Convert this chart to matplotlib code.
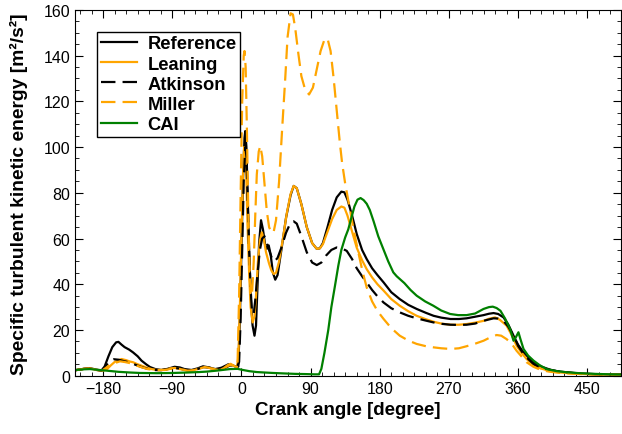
import matplotlib
matplotlib.use("Agg")
import matplotlib.pyplot as plt
from matplotlib.ticker import MultipleLocator

plt.rcParams['font.family'] = ['Liberation Sans', 'DejaVu Sans']

# crank angle [deg] / tke [m2/s2]
ref_x = [-216, -205, -197, -188, -182, -178, -173, -168, -163, -160, -156, -152, -146, -141, -135,
         -130, -124, -119, -112, -104, -96, -87, -80, -74, -65, -57, -50, -42, -34, -26, -17, -11,
         -6, -4, -2, 0, 2, 4, 5, 6.5, 8, 10, 12, 14.5, 17, 19, 21, 23, 25.5, 28, 31, 33, 35.5, 38,
         41, 44, 47, 52, 58, 64, 68, 72, 78, 85, 92, 98, 102, 106, 112, 118, 124, 130, 134, 138,
         144, 150, 157, 163, 170, 177, 185, 195, 206, 217, 228, 240, 250, 260, 272, 283, 293, 304,
         315, 322, 328, 334, 341, 347, 354, 360, 367, 374, 380, 390, 402, 412, 423, 440, 460, 480, 494]
ref_y = [2.4, 3.0, 3.3, 2.6, 2.3, 4.0, 8.5, 12.5, 14.6, 14.8, 13.6, 12.5, 11.4, 10.2, 8.5,
         6.6, 5.0, 3.8, 2.9, 2.5, 3.0, 3.9, 3.6, 2.9, 2.5, 3.2, 4.1, 3.6, 2.9, 3.5, 5.0, 4.5,
         3.7, 4, 25, 55, 85, 104, 107, 100, 80, 55, 35, 22, 17.5, 22, 40, 58, 68, 64, 57, 55.5, 57, 53,
         45, 42, 44, 55, 69, 79, 83, 82, 75, 65, 58, 55.5, 55.7, 58, 65, 72.5, 78, 80.5, 80.2, 77,
         70, 62, 55, 51, 47, 44, 40.8, 36.5, 33.5, 31, 29.2, 27.5, 26.2, 25.4, 24.8, 24.8, 25.1, 25.8,
         26.5, 27.1, 27.4, 27.0, 25.5, 22.5, 17.5, 13.5, 10.2, 7.8, 5.9, 4.0, 2.6, 1.9, 1.5, 1.0, 0.7, 0.5, 0.5]

lean_x = [-216, -205, -197, -188, -180, -175, -170, -165, -160, -156, -150, -145, -141, -135, -130,
          -124, -117, -110, -100, -92, -87, -80, -72, -65, -57, -50, -45, -38, -30, -24, -18, -14,
          -10, -6, -4, -2, 0, 2, 3.5, 5, 6.5, 8, 10, 12, 14.6, 17, 19, 21.5, 24, 26.5, 29, 32, 36,
          39, 42, 45, 49, 54, 59, 64, 68, 72, 78, 85, 92, 98, 102, 106, 112, 118, 124, 130, 134,
          138, 144, 150, 157, 163, 170, 177, 185, 195, 206, 217, 228, 240, 250, 260, 272, 283, 293,
          304, 315, 322, 330, 336, 345, 352, 358, 365, 371, 380, 389, 400, 412, 425, 440, 460, 480, 494]
lean_y = [2.4, 3.0, 3.2, 2.5, 2.2, 2.8, 4.5, 6.0, 6.8, 7.3, 6.8, 6.2, 5.9, 5.0, 4.4,
          3.6, 2.9, 2.5, 2.6, 3.2, 3.4, 3.0, 2.4, 2.2, 2.9, 3.7, 3.8, 3.1, 2.5, 3.0, 4.6, 5.2,
          4.4, 3.6, 8, 30, 60, 88, 100, 98, 85, 65, 45, 30, 23.3, 26, 35, 50, 59, 62.7, 60, 54, 49,
          46, 44.5, 45, 50, 60, 71, 79.5, 83, 82, 75, 65, 58, 55.5, 55.7, 57.5, 63, 68.5, 72.5, 74, 73.5,
          70, 63, 56, 50.5, 46.6, 43, 40, 37.2, 33.5, 30.6, 28.2, 26.2, 24.7, 23.6, 22.8, 22.3, 22.3, 22.6,
          23.2, 24, 24.9, 25.5, 24.5, 21.9, 17.5, 13.1, 9.8, 7.3, 4.8, 3.2, 2.2, 1.5, 1.1, 0.8, 0.6, 0.5, 0.5]

atk_x = [-216, -205, -197, -188, -182, -177, -172, -166, -160, -152, -145, -138, -130, -122, -115,
         -105, -96, -88, -80, -72, -65, -57, -50, -43, -36, -28, -20, -15, -10, -6, -3, -1, 1, 3, 5,
         6.5, 8, 10, 12, 13.7, 16, 18, 21, 24, 27, 30, 33, 37, 40, 43, 47, 52, 58, 64, 68, 72, 78,
         85, 92, 98, 104, 110, 117, 124, 130, 137, 144, 150, 157, 163, 170, 177, 185, 195, 206, 217,
         228, 240, 250, 260, 272, 283, 293, 304, 315, 322, 328, 334, 341, 347, 354, 360, 367, 374,
         380, 390, 406, 420, 440, 460, 480, 494]
atk_y = [2.4, 3.0, 3.2, 2.5, 2.2, 4, 6.2, 7.2, 7.0, 6.3, 5.8, 4.8, 3.8, 3.0, 2.5,
         2.4, 2.9, 3.4, 3.1, 2.5, 2.3, 2.9, 3.8, 3.6, 3.0, 2.6, 3.6, 4.5, 4.3, 3.6, 6, 25, 55, 85, 100,
         96, 78, 55, 38, 28, 27, 33, 45, 55, 60, 61, 58, 54, 51, 50, 51.5, 56, 62.5, 67, 67.5, 66.5, 61,
         54, 49.5, 48.4, 49.5, 52.5, 55, 56.1, 55.8, 54.6, 51, 47, 43.5, 40.8, 37.5, 34.7, 32, 29.5, 27.7, 26.2,
         25.1, 24.1, 23.3, 22.7, 22.3, 22.2, 22.3, 22.8, 24, 24.6, 25.1, 25.0, 24, 21.5, 17.5, 13, 9.5, 7,
         5.1, 3.4, 2.2, 1.5, 0.9, 0.6, 0.5, 0.5]

mil_x = [-216, -205, -197, -188, -181, -176, -170, -164, -158, -152, -145, -138, -130, -122, -112,
         -100, -92, -86, -78, -70, -62, -55, -48, -42, -34, -27, -20, -15, -11, -7, -5, -3, -1, 1, 3,
         4, 5.5, 7, 9, 11, 12.5, 14, 16, 18, 20, 22.5, 24.5, 27, 30, 33, 36, 39, 42, 45, 49, 53, 57,
         60, 64, 67, 70, 74, 78, 83, 88, 93, 98, 103, 108, 112, 116, 120, 124, 128, 131, 135, 141,
         147, 154, 158, 163, 170, 177, 185, 195, 206, 217, 228, 240, 250, 260, 272, 283, 293, 304,
         315, 324, 332, 338, 345, 352, 358, 365, 371, 380, 389, 400, 415, 430, 450, 470, 494]
mil_y = [2.4, 3.0, 3.2, 2.5, 2.3, 3.5, 5.0, 5.6, 6.3, 6.0, 5.5, 4.6, 3.7, 2.9, 2.4,
         2.5, 3.0, 3.2, 2.8, 2.2, 2.3, 3.0, 3.8, 3.4, 2.7, 2.6, 3.8, 4.7, 4.5, 3.8, 6, 35, 80, 120, 140,
         142, 135, 110, 70, 42, 35, 37, 50, 70, 88, 98, 100.5, 96, 84, 72, 65, 62.5, 63, 68, 85, 108, 130,
         148, 158.5, 158, 152, 141, 131, 125, 123, 126, 134, 142, 147, 147.5, 142, 130, 116, 102, 93, 84, 73,
         62, 51, 45, 38.6, 32.5, 28.3, 24.8, 20.8, 17.5, 15.4, 13.9, 12.9, 12.4, 12.0, 11.7, 12.0, 12.9, 14.0,
         15.3, 16.8, 17.8, 17.5, 16.0, 13.8, 10.9, 8.2, 5.9, 3.9, 2.6, 1.8, 1.2, 0.9, 0.6, 0.5, 0.4]

cai_x = [-216, -205, -197, -188, -175, -160, -145, -132, -110, -89, -70, -55, -45, -30, -15, -5, 2,
         10, 20, 30, 41, 55, 70, 85, 95, 101, 104, 108, 113, 117, 121.7, 126, 130, 135, 139, 143, 147,
         151, 155, 159, 163, 167, 172, 178, 184.6, 191, 197.6, 202, 206, 212, 220, 228, 239, 249.7,
         260, 271.5, 282, 293, 304, 315, 322, 327, 332, 337, 343, 349.6, 354, 357, 360.4, 363, 367,
         373, 380, 388, 397, 410, 423, 440, 460, 480, 494]
cai_y = [2.5, 2.8, 2.9, 2.6, 2.2, 1.7, 1.4, 1.2, 1.1, 1.2, 1.4, 1.6, 1.8, 2.3, 2.9, 3.0, 2.5,
         2.0, 1.6, 1.4, 1.2, 1.0, 0.8, 0.7, 0.6, 0.6, 3, 10, 20, 30, 39.3, 48, 55, 60.5, 64, 69, 74,
         77, 77.7, 76.8, 75.2, 72.5, 67.5, 61, 55.4, 50, 45.2, 43.5, 42.3, 40.5, 37.5, 35, 32.5, 30.6,
         28.5, 27, 26.5, 26.5, 27.2, 29.2, 30, 30.2, 29.6, 28.4, 25, 20.4, 15.3, 16.8, 19, 16, 11.7,
         8.8, 6.6, 4.6, 2.9, 2, 1.5, 1.1, 0.8, 0.6, 0.5]

fig = plt.figure(figsize=(6.22, 4.35), dpi=100)
ax = fig.add_axes([0.1206, 0.134, 0.878, 0.841])

dash = (0, (6.5, 3.2))
ax.plot(ref_x, ref_y, color="black", lw=1.6, label="Reference")
ax.plot(lean_x, lean_y, color="orange", lw=1.6, label="Leaning")
ax.plot(atk_x, atk_y, color="black", lw=1.6, ls=dash, label="Atkinson")
ax.plot(mil_x, mil_y, color="orange", lw=1.6, ls=dash, label="Miller")
ax.plot(cai_x, cai_y, color="green", lw=1.6, label="CAI")

ax.set_xlim(-216.5, 494)
ax.set_ylim(0, 160)
ax.xaxis.set_major_locator(MultipleLocator(90))
ax.xaxis.set_minor_locator(MultipleLocator(15))
ax.yaxis.set_major_locator(MultipleLocator(20))
ax.yaxis.set_minor_locator(MultipleLocator(5))
ax.tick_params(which="both", direction="in", top=True, right=True, labelsize=11.5)
ax.tick_params(which="major", length=6)
ax.tick_params(which="minor", length=3)

ax.set_xlabel("Crank angle [degree]", fontsize=13.5, fontweight="bold")
ax.set_ylabel("Specific turbulent kinetic energy [m²/s²]", fontsize=13.9, fontweight="bold",
              labelpad=11)

leg = ax.legend(loc="upper left", bbox_to_anchor=(0.04, 0.94), borderaxespad=0,
                fancybox=False, edgecolor="black", framealpha=1,
                prop={"weight": "bold", "size": 13.2}, handlelength=2.0, handletextpad=0.55,
                labelspacing=0.17, borderpad=0.2)
leg.get_frame().set_linewidth(1.0)

fig.savefig("out.png", dpi=100)
